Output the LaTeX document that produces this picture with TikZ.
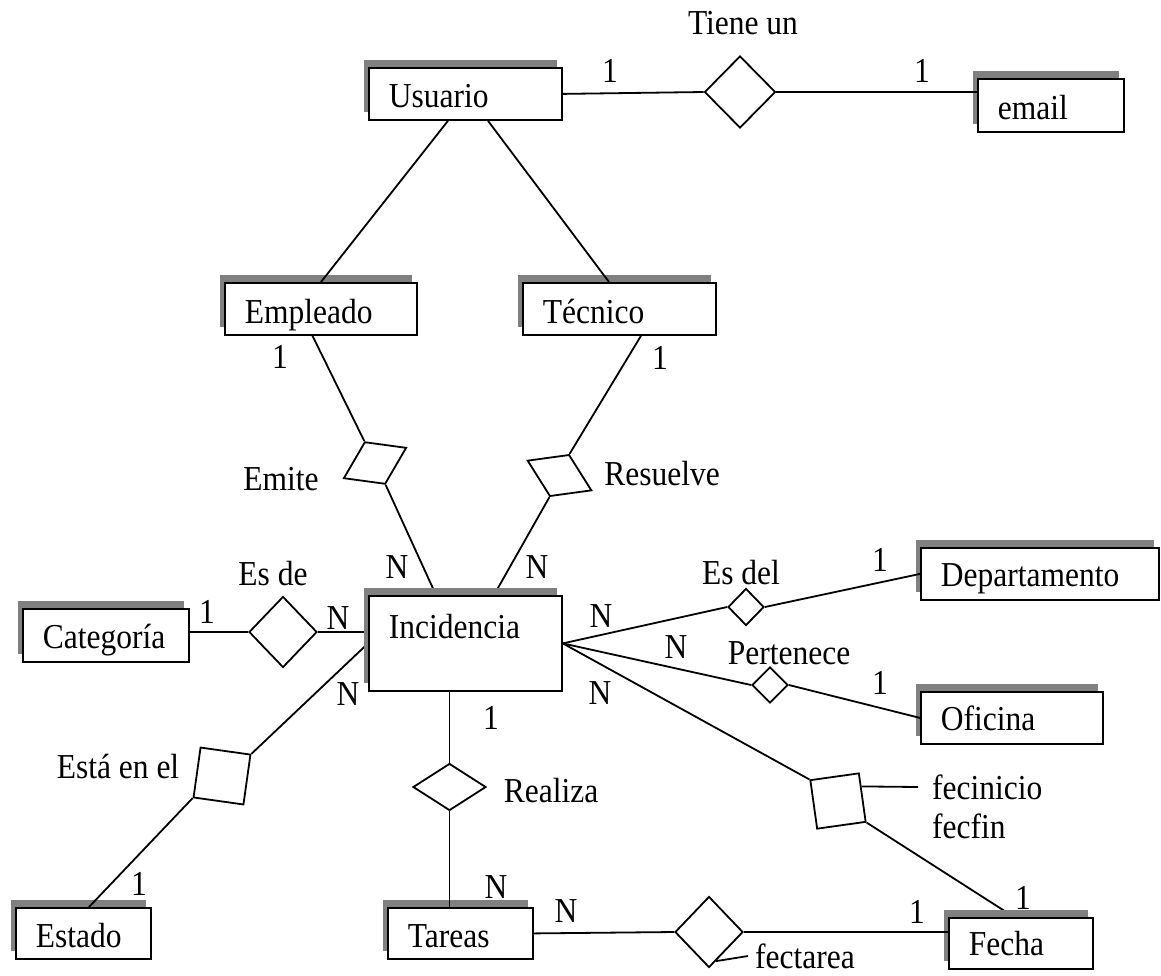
\documentclass[tikz,border=0pt]{standalone}
\usepackage{fontspec}
\setmainfont{Liberation Serif}[FakeStretch=0.9]
\usetikzlibrary{shapes,shapes.geometric,shadows,calc}
\tikzstyle{entidad} = [draw, fill=white, rectangle, line width=1.8pt,
    anchor=north west, inner xsep=20pt, inner ysep=0pt, align=left,
    text height=40pt, text depth=12pt,
    general shadow={fill=gray, shadow xshift=-5pt, shadow yshift=8pt}]
\tikzstyle{relacion} = [draw, fill=white, diamond, line width=1.8pt, inner sep=0pt]
\tikzstyle{etiqueta} = [inner sep=0pt]
\tikzstyle{linea} = [line width=1.8pt]
\pgfdeclarelayer{background}
\pgfsetlayers{background,main}

\begin{document}
\begin{tikzpicture}[x=1pt, y=-1pt, font=\fontsize{35}{40}\selectfont]
      \useasboundingbox (0,0) rectangle (1161,975);

      % entidades
      \node [entidad, text width=153pt] (usuario) at (368,67) {Usuario};
      \node [entidad, text width=106pt, text height=41pt] (email) at (977,78) {email};
      \node [entidad, text width=152pt, text height=41pt, text depth=11pt] (empleado) at (224,282) {Empleado};
      \node [entidad, text width=153pt, text height=41pt, text depth=11pt] (tecnico) at (522,282) {Técnico};
      \node [entidad, text width=126pt, text depth=13pt] (categoria) at (22,608) {Categoría};
      \node [entidad, text width=153pt, text height=43pt, text depth=52pt] (incidencia) at (368,595) {Incidencia};
      \node [entidad, text width=198pt, text height=39pt, text depth=13pt] (departamento) at (920,547) {Departamento};
      \node [entidad, text width=142pt, text height=39pt, text depth=13pt] (oficina) at (920,691) {Oficina};
      \node [entidad, text width=95pt, text depth=11pt] (estado) at (15,907) {Estado};
      \node [entidad, text width=105pt, text depth=11pt] (tareas) at (387,907) {Tareas};
      \node [entidad, text width=104pt, text height=38pt, text depth=13pt] (fecha) at (948,917) {Fecha};

      % relaciones
      \node [relacion, minimum width=71pt, minimum height=72pt] (tiene) at (740,92) {};
      \node [relacion, minimum width=70pt, minimum height=47pt, rotate=26] (emite) at (375,463) {};
      \node [relacion, minimum width=71pt, minimum height=46pt, rotate=-25] (resuelve) at (559.5,475.5) {};
      \node [relacion, minimum width=68pt, minimum height=71pt] (esde) at (283,632) {};
      \node [relacion, minimum width=36pt, minimum height=37pt] (esdel) at (746,607) {};
      \node [relacion, minimum width=36pt, minimum height=36pt] (pertenece) at (770,685) {};
      \node [relacion, minimum width=73pt, minimum height=47pt] (realiza) at (449.5,787) {};
      \node [relacion, minimum width=72pt, minimum height=72pt, rotate=37] (estaen) at (222,776) {};
      \node [relacion, minimum width=70pt, minimum height=70pt, rotate=53] (periodo) at (838,801) {};
      \node [relacion, minimum width=68pt, minimum height=71pt] (asigna) at (709,932) {};

      % nombres y cardinalidades
      \node [etiqueta] (l-tiene) at (743,23) {Tiene un};
      \node [etiqueta] (c-usuario) at (610,71) {1};
      \node [etiqueta] (c-email) at (922,71) {1};
      \node [etiqueta] (c-empleado) at (280,357) {1};
      \node [etiqueta] (c-tecnico) at (660,358) {1};
      \node [etiqueta] (l-emite) at (281,479) {Emite};
      \node [etiqueta] (l-resuelve) at (662,474) {Resuelve};
      \node [etiqueta] (c-emite) at (397,567) {N};
      \node [etiqueta] (c-resuelve) at (537,567) {N};
      \node [etiqueta] (l-esde) at (273,574) {Es de};
      \node [etiqueta] (c-categoria) at (207,612) {1};
      \node [etiqueta] (c-esde) at (338,618) {N};
      \node [etiqueta] (l-esdel) at (741,573) {Es del};
      \node [etiqueta] (c-departamento) at (880,560) {1};
      \node [etiqueta] (c-esdel) at (601,616) {N};
      \node [etiqueta] (c-pertenece) at (676,647) {N};
      \node [etiqueta] (l-pertenece) at (789,653) {Pertenece};
      \node [etiqueta] (c-oficina) at (880,683) {1};
      \node [etiqueta] (c-periodo) at (600,693) {N};
      \node [etiqueta] (c-estaen) at (348,694) {N};
      \node [etiqueta] (c-realiza) at (491,718) {1};
      \node [etiqueta] (l-realiza) at (551,791) {Realiza};
      \node [etiqueta] (l-estaen) at (118,766) {Está en el};
      \node [etiqueta, anchor=west] (fecinicio) at (932,787) {fecinicio};
      \node [etiqueta, anchor=west] (fecfin) at (932,826) {fecfin};
      \node [etiqueta] (c-estado) at (139,884) {1};
      \node [etiqueta] (c-tareas) at (496,887) {N};
      \node [etiqueta] (c-asigna) at (566,911) {N};
      \node [etiqueta] (c-fecha) at (917,912) {1};
      \node [etiqueta] (c-fechaper) at (1023,898) {1};
      \node [etiqueta, anchor=west] (fectarea) at (755,956) {fectarea};

      % conexiones
      \draw [linea] ([xshift=80pt]usuario.south west) -- ([xshift=97pt]empleado.north west);
      \draw [linea] ([xshift=120pt]usuario.south west) -- ([xshift=87pt]tecnico.north west);
      \draw [linea] (usuario.east) -- (tiene.west);
      \draw [linea] (tiene.east) -- (tiene.east -| email.west);
      \draw [linea] ([xshift=88.5pt]empleado.south west) -- (emite.north);
      \draw [linea] ([xshift=119pt]tecnico.south west) -- (resuelve.north);
      \draw [linea] (esde.west -| categoria.east) -- (esde.west);
      \draw [linea] (esdel.east) -- (departamento.west);
      \draw [linea] (pertenece.east) -- (oficina.west);
      \draw [linea] ([xshift=81.5pt]incidencia.south west) -- (realiza.north);
      \draw [linea] (realiza.south) -- (realiza.south |- tareas.north);
      \draw [linea] (estaen.west) -- ([xshift=74pt]estado.north west);
      \draw [linea] (tareas.east) -- (asigna.west);
      \draw [linea] (asigna.east) -- (asigna.east -| fecha.west);
      \draw [linea] ($(periodo.east)!0.28!(periodo.south)$) -- ([xshift=-14pt]fecinicio.west);
      \draw [linea] ($(asigna.east)!0.8!(asigna.south)$) -- ([xshift=-7pt]fectarea.west);

      \begin{pgfonlayer}{background}
      \draw [linea] (emite.south) -- ([xshift=68pt]incidencia.north west);
      \draw [linea] (resuelve.south) -- ([xshift=126pt]incidencia.north west);
      \draw [linea] (esde.east) -- (esde.east -| incidencia.west);
      \draw [linea] (incidencia.west) -- (estaen.east);
      \draw [linea] (incidencia.east) -- (esdel.west);
      \draw [linea] (incidencia.east) -- (pertenece.west);
      \draw [linea] (incidencia.east) -- (periodo.north);
      \draw [linea] (periodo.south) -- ([xshift=66pt]fecha.north west);
      \end{pgfonlayer}
    \end{tikzpicture}
\end{document}
